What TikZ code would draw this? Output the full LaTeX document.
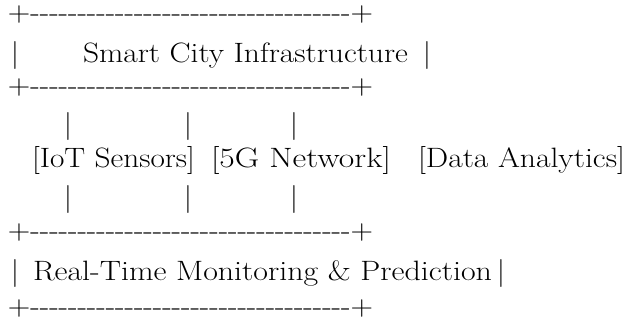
\documentclass[tikz,border=0pt]{standalone}
\usepackage{graphicx}
\newcommand{\fitw}[2]{\resizebox{#1}{\height}{#2}}
\newcommand{\hy}{\mbox{-}}
\newcommand{\hyten}{\hy\hy\hy\hy\hy\hy\hy\hy\hy\hy}
\newcommand{\borderline}{+\hyten\hyten\hyten\hy\hy\hy\hy+}
\begin{document}
\begin{tikzpicture}[x=1pt,y=-1pt,
  txt/.style={anchor=base west, inner sep=0pt, outer sep=0pt, font=\fontsize{28}{32}\selectfont},
  bar/.style={anchor=base, inner sep=0pt, outer sep=0pt, font=\fontsize{28}{32}\selectfont}]
\useasboundingbox (0,0) rectangle (628,320);
% top box
\node[txt] (top1) at (8,22) {\fitw{365pt}{\borderline}};
\node[bar] (topl) at (15,63) {|};
\node[txt] (title) at (83,63) {\fitw{325pt}{Smart City Infrastructure}};
\node[bar] (topr) at (427,63) {|};
\node[txt] (top3) at (8,95) {\fitw{365pt}{\borderline}};
% upper pipes
\node[bar] (u1) at (68,134) {|};
\node[bar] (u2) at (188,134) {|};
\node[bar] (u3) at (294,134) {|};
% components
\node[txt] (iot) at (32,168) {\fitw{163pt}{[IoT Sensors]}};
\node[txt] (fiveg) at (211,168) {\fitw{180pt}{[5G Network]}};
\node[txt] (data) at (418,168) {\fitw{207pt}{[Data Analytics]}};
% lower pipes
\node[bar] (l1) at (68,207) {|};
\node[bar] (l2) at (188,207) {|};
\node[bar] (l3) at (294,207) {|};
% bottom box
\node[txt] (bot1) at (8,240) {\fitw{365pt}{\borderline}};
\node[bar] (botl) at (15,280) {|};
\node[txt] (monitor) at (33,280) {\fitw{459pt}{Real-Time Monitoring \& Prediction}};
\node[bar] (botr) at (501,280) {|};
\node[txt] (bot3) at (8,315) {\fitw{365pt}{\borderline}};
\end{tikzpicture}
\end{document}
